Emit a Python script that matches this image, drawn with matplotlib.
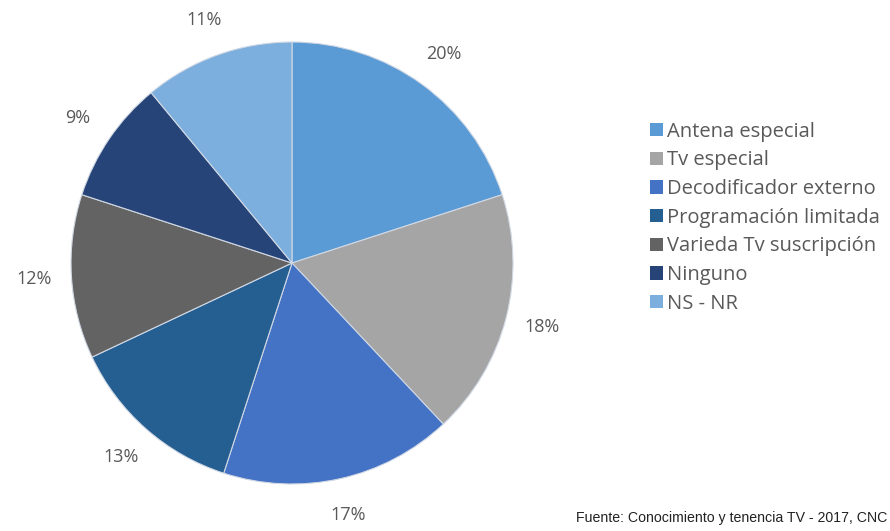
import matplotlib.pyplot as plt
from matplotlib.patches import Patch

categorias = ["Antena especial", "Tv especial", "Decodificador externo",
              "Programación limitada", "Varieda Tv suscripción", "Ninguno", "NS - NR"]
valores = [20, 18, 17, 13, 12, 9, 11]
colores = ["#5B9BD5", "#A5A5A5", "#4472C4", "#255E91", "#636363", "#264478", "#7CAFDD"]
etiquetas = [f"{v}%" for v in valores]
fuente = "Fuente: Conocimiento y tenencia TV - 2017, CNC"

fig = plt.figure(figsize=(8.9, 5.31), dpi=100)
ax = fig.add_axes([0.0798, 0.0885, 0.4966, 0.8324])

wedges, texts = ax.pie(valores, colors=colores, labels=etiquetas, startangle=90,
                       counterclock=False, labeldistance=1.17,
                       wedgeprops=dict(linewidth=0.8, edgecolor="#d0d8e4"),
                       textprops=dict(color="#595959", fontsize=13, family="Open Sans"))
for t in texts:
    t.set_horizontalalignment("center")
    t.set_verticalalignment("center")
ax.set_xlim(-1, 1)
ax.set_ylim(-1, 1)
ax.set_aspect("equal")

handles = [Patch(facecolor=c, edgecolor="none") for c in colores]
fig.legend(handles, categorias, loc="upper left", bbox_to_anchor=(0.71, 0.805),
           frameon=False, handlelength=0.65, handleheight=0.65, handletextpad=0.2,
           labelspacing=0.43, prop=dict(family="Open Sans", size=14.5), labelcolor="#595959")

fig.text(0.997, 0.012, fuente, ha="right", va="bottom", fontsize=10.2,
         family=["Liberation Sans Narrow", "Liberation Sans"], color="#222222")

fig.savefig("out.png", dpi=100, facecolor="white")
